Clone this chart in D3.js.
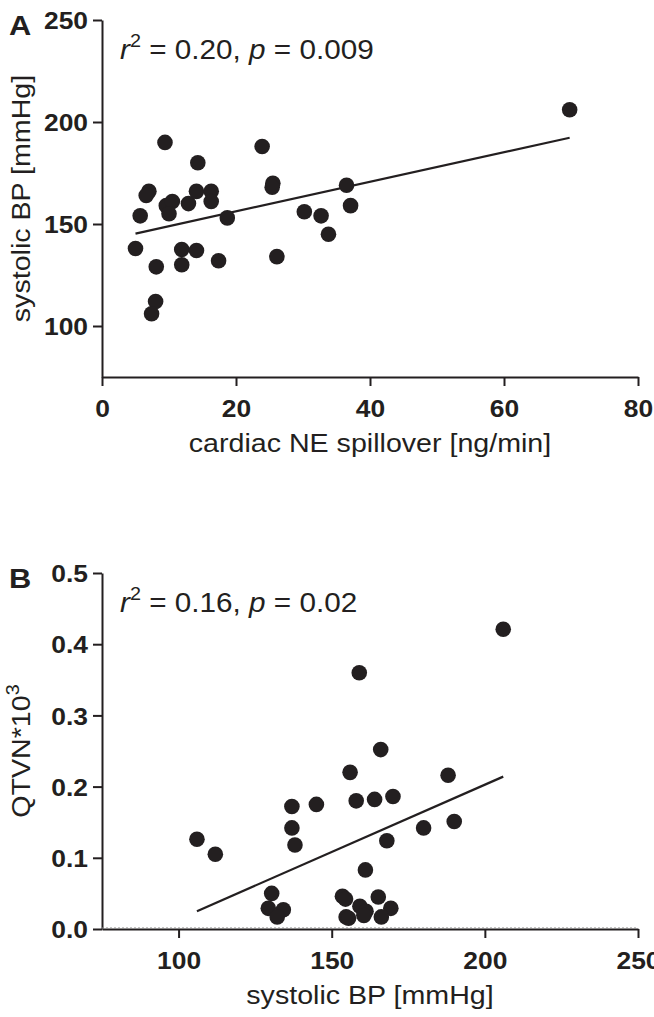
<!DOCTYPE html>
<html>
<head>
<meta charset="utf-8">
<script src="https://cdn.jsdelivr.net/npm/d3@7"></script>
<style>
    body { margin: 0; background: #fff; }
    text { font-family: "Liberation Sans", Arial, sans-serif; fill: #231f20; }
</style>
</head>
<body>
<div id="chart"></div>
<script>
// Panel A: cardiac NE spillover [ng/min] vs systolic BP [mmHg]
const spilloverA = [9.4, 23.9, 14.3, 69.8, 7.0, 6.6, 5.7, 5.0, 8.1, 8.0, 7.4, 9.6, 10.5, 10.0, 12.9, 14.1, 16.3, 16.3,
    11.9, 11.9, 14.1, 17.4, 18.7, 25.5, 25.4, 26.1, 30.2, 32.7, 33.8, 36.5, 37.1];
const sbpA = [190, 188, 180, 206, 166, 164, 154, 138, 129, 112, 106, 159, 161, 155, 160, 166, 166, 161,
    137.5, 130, 137, 132, 153, 170, 168, 134, 156, 154, 145, 169, 159];
const fitA = [[5.0, 145.3], [69.8, 192.3]];
const xTicksA = [0, 20, 40, 60, 80];
const yTicksA = [100, 150, 200, 250];

// Panel B: systolic BP [mmHg] vs QTVN*10^3
const sbpB = [206, 159, 166, 156, 158, 164, 170, 188, 190, 180, 168, 161, 137, 145, 137, 138, 106, 112,
    130.4, 129.3, 134.2, 132.2, 153.5, 154.5, 154.7, 155.5, 159.2, 161.2, 160.5, 165.2, 169.3, 166.2];
const qtvnB = [0.421, 0.360, 0.252, 0.220, 0.180, 0.182, 0.186, 0.216, 0.151, 0.142, 0.124, 0.083, 0.172, 0.175, 0.142, 0.118, 0.126, 0.105,
    0.050, 0.029, 0.027, 0.017, 0.046, 0.042, 0.017, 0.015, 0.032, 0.025, 0.019, 0.045, 0.029, 0.017];
const fitB = [[106, 0.025], [206, 0.214]];
const xTicksB = [100, 150, 200, 250];
const yTicksB = [0, 0.1, 0.2, 0.3, 0.4, 0.5];

const ink = '#231f20';
const sx = 1.1; // the figure's type is a bit wider than Arial

const svg = d3.select('#chart').append('svg')
    .attr('width', 654)
    .attr('height', 1017);

// text placed at (x, y), optionally rotated, stretched along its own direction
const addText = (parent, x, y, size, rot = 0) => parent.append('text')
    .attr('transform', `translate(${x},${y}) rotate(${rot}) scale(${sx},1)`)
    .style('font-size', size + 'px');

const drawPanel = (cfg) => {
    const g = svg.append('g');
    const x = d3.scaleLinear().domain(cfg.xDomain).range([102, 638]);
    const y = d3.scaleLinear().domain(cfg.yDomain).range(cfg.yRange);

    // axes
    const xAxis = g.append('g')
        .attr('transform', `translate(0,${cfg.yRange[0]})`)
        .call(d3.axisBottom(x).tickValues(cfg.xTicks).tickSize(9).tickSizeOuter(0).tickFormat(d3.format('d')));
    const yAxis = g.append('g')
        .attr('transform', 'translate(102,0)')
        .call(d3.axisLeft(y).tickValues(cfg.yTicks).tickSize(9).tickSizeOuter(0).tickFormat(cfg.yFormat));

    [xAxis, yAxis].forEach(a => {
        a.select('.domain').attr('stroke', ink).attr('stroke-width', 2);
        a.selectAll('.tick line').attr('stroke', ink).attr('stroke-width', 2);
        a.selectAll('.tick text')
            .attr('transform', `scale(${sx},1)`)
            .style('font-size', '24px')
            .style('font-weight', 'bold')
            .attr('fill', ink);
    });
    xAxis.selectAll('.tick text').attr('y', 40).attr('dy', 0);
    yAxis.selectAll('.tick text').attr('x', -14 / sx).attr('dy', '0.36em');

    if (cfg.zeroLine) {
        g.append('line')
            .attr('x1', 102).attr('x2', 638)
            .attr('y1', y(0) - 1).attr('y2', y(0) - 1)
            .attr('stroke', '#888')
            .attr('stroke-width', 1)
            .attr('stroke-dasharray', '2,2');
    }

    // regression line
    g.append('line')
        .attr('x1', x(cfg.fit[0][0])).attr('y1', y(cfg.fit[0][1]))
        .attr('x2', x(cfg.fit[1][0])).attr('y2', y(cfg.fit[1][1]))
        .attr('stroke', ink)
        .attr('stroke-width', 2.2);

    // points
    g.selectAll('.dot')
        .data(cfg.xs.map((v, i) => [v, cfg.ys[i]]))
        .enter().append('circle')
        .attr('class', 'dot')
        .attr('cx', d => x(d[0]))
        .attr('cy', d => y(d[1]))
        .attr('r', 7.8)
        .attr('fill', ink);

    // panel letter
    addText(g, 9, cfg.yRange[1] + 15, 28)
        .style('font-weight', 'bold')
        .text(cfg.letter);

    // stats annotation
    const ann = addText(g, 120, cfg.yRange[1] + 39, 27);
    ann.append('tspan').style('font-style', 'italic').text('r');
    ann.append('tspan').attr('dy', -12).style('font-size', '18px').text('2');
    ann.append('tspan').attr('dy', 12).text(` = ${cfg.r2}, `);
    ann.append('tspan').style('font-style', 'italic').text('p');
    ann.append('tspan').text(` = ${cfg.p}`);

    // axis titles
    addText(g, 370, cfg.yRange[0] + 75, 26)
        .attr('text-anchor', 'middle')
        .text(cfg.xTitle);

    const yt = addText(g, 30, (cfg.yRange[0] + cfg.yRange[1]) / 2, 26, -90)
        .attr('text-anchor', 'middle');
    yt.append('tspan').text(cfg.yTitle);
    if (cfg.ySup) {
        yt.append('tspan').attr('dy', -11).style('font-size', '18px').text(cfg.ySup);
    }
};

drawPanel({
    letter: 'A', xs: spilloverA, ys: sbpA, fit: fitA,
    xDomain: [0, 80], yDomain: [75, 250], yRange: [377, 20],
    xTicks: xTicksA, yTicks: yTicksA, yFormat: d3.format('d'),
    r2: '0.20', p: '0.009',
    xTitle: 'cardiac NE spillover [ng/min]', yTitle: 'systolic BP [mmHg]'
});

drawPanel({
    letter: 'B', xs: sbpB, ys: qtvnB, fit: fitB,
    xDomain: [75, 250], yDomain: [0, 0.5], yRange: [929, 573],
    xTicks: xTicksB, yTicks: yTicksB, yFormat: d3.format('.1f'),
    r2: '0.16', p: '0.02', zeroLine: true,
    xTitle: 'systolic BP [mmHg]', yTitle: 'QTVN*10', ySup: '3'
});
</script>
</body>
</html>
